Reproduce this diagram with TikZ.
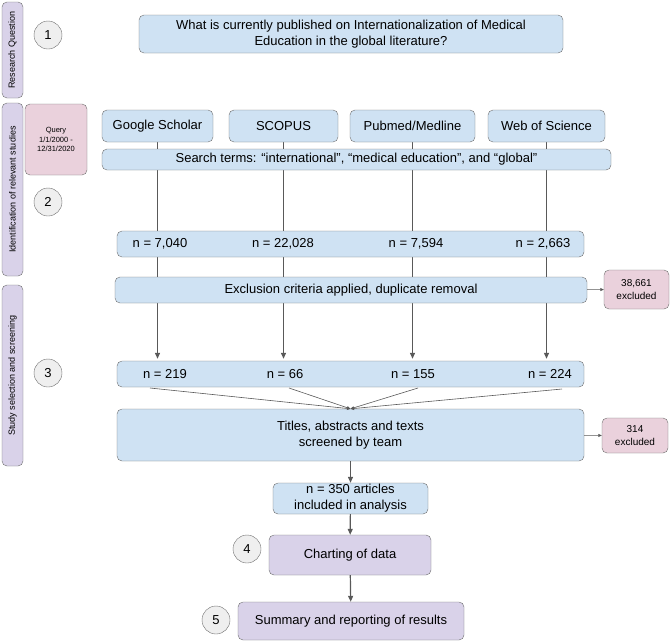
\documentclass[tikz,border=0pt]{standalone}
\usepackage{fontspec}
\setmainfont{Liberation Sans}
\usetikzlibrary{arrows.meta,backgrounds}

\definecolor{boxblue}{HTML}{CFE2F3}
\definecolor{boxpurple}{HTML}{D9D2E9}
\definecolor{boxpink}{HTML}{EAD1DC}
\definecolor{circgray}{HTML}{EFEFEF}
\definecolor{edgegray}{HTML}{6E6E6E}
\definecolor{linegray}{HTML}{595959}

\tikzstyle{box}=[draw=edgegray,fill=boxblue,rounded corners=5pt,inner sep=0pt,align=center,font=\fontsize{13}{16}\selectfont]
\tikzstyle{phase}=[box,fill=boxpurple]
\tikzstyle{note}=[box,fill=boxpink,font=\fontsize{10}{13}\selectfont]
\tikzstyle{lane}=[box,fill=boxpurple,rotate=90,minimum height=21pt,font=\fontsize{9}{11}\selectfont]
\tikzstyle{stepnum}=[circle,draw=edgegray,fill=circgray,minimum size=28pt,inner sep=0pt,font=\fontsize{13}{16}\selectfont]
\tikzstyle{numtxt}=[inner sep=0pt,font=\fontsize{13}{16}\selectfont]
\tikzstyle{flow}=[linegray,line width=1.2pt,-{Triangle[length=6pt,width=5pt]}]
\tikzstyle{merge}=[linegray,line width=0.6pt,-{Triangle[length=3.5pt,width=3pt]}]

\begin{document}
\begin{tikzpicture}[x=1pt,y=-1pt]
    \useasboundingbox (0,0) rectangle (672,641);
    % lanes on the left
    \node (rqlane)[lane,minimum width=96pt] at (12.5,50) {Research Question};
    \node (idlane)[lane,minimum width=173pt] at (12.5,189.5) {Identification of relevant studies};
    \node (sslane)[lane,minimum width=181pt] at (12.5,375.5) {Study selection and screening};
    \node (c1)[stepnum] at (48,35) {1};
    \node (c2)[stepnum] at (48,202) {2};
    \node (c3)[stepnum] at (48,373) {3};
    \node (c4)[stepnum] at (247,549) {4};
    \node (c5)[stepnum] at (216,620) {5};
    % question and search
    \node (rq)[box,minimum width=424pt,minimum height=38pt] at (351,34) {What is currently published on Internationalization of Medical\\Education in the global literature?};
    \node (query)[note,minimum width=62pt,minimum height=71pt,font=\fontsize{7.5}{9.5}\selectfont] at (56,139.5) {Query\\1/1/2000 -\\12/31/2020};
    \node (gs)[box,minimum width=111pt,minimum height=32pt] at (157.5,126) {Google Scholar};
    \node (scopus)[box,minimum width=109pt,minimum height=32pt] at (283.5,126) {SCOPUS};
    \node (pubmed)[box,minimum width=125pt,minimum height=32pt] at (412.5,126) {Pubmed/Medline};
    \node (wos)[box,minimum width=117pt,minimum height=32pt] at (546.5,126) {Web of Science};
    \node (search)[box,minimum width=509pt,minimum height=21pt] at (356.5,159.5) {Search terms: “international”, “medical education”, and “global”};
    % counts found
    \node (found)[box,minimum width=467pt,minimum height=26pt] at (350.5,244) {};
    \node (fgs) [numtxt] at (160,244) {n = 7,040};
    \node (fsc) [numtxt] at (283,244) {n = 22,028};
    \node (fpm) [numtxt] at (416,244) {n = 7,594};
    \node (fws) [numtxt] at (543,244) {n = 2,663};
    \node (excl)[box,minimum width=472pt,minimum height=26pt] at (351,290) {Exclusion criteria applied, duplicate removal};
    \node (out1)[note,minimum width=65pt,minimum height=39pt] at (636.5,289.5) {38,661\\excluded};
    % counts kept
    \node (kept)[box,minimum width=467pt,minimum height=26pt] at (350.5,374) {};
    \node (kgs) [numtxt] at (165,374) {n = 219};
    \node (ksc) [numtxt] at (285,374) {n = 66};
    \node (kpm) [numtxt] at (413,374) {n = 155};
    \node (kws) [numtxt] at (550,374) {n = 224};
    \node (screen)[box,minimum width=467pt,minimum height=52pt] at (350.5,435) {Titles, abstracts and texts\\screened by team};
    \node (out2)[note,minimum width=66pt,minimum height=35pt] at (635,435.5) {314\\excluded};
    \node (incl)[box,minimum width=155pt,minimum height=31pt] at (350.5,498.5) {n = 350 articles\\included in analysis};
    \node (chart)[phase,minimum width=162pt,minimum height=40pt] at (350,555) {Charting of data};
    \node (summ)[phase,minimum width=226pt,minimum height=38pt] at (351,621) {Summary and reporting of results};
    \coordinate (mgs) at (150,388);
    \coordinate (msc) at (289,388);
    \coordinate (mpm) at (418,388);
    \coordinate (mws) at (562,389);

    \begin{pgfonlayer}{background}
    \path[flow,-] (gs.south)     edge (gs.south |- found.north);
    \path[flow,-] (scopus.south) edge (scopus.south |- found.north);
    \path[flow,-] (pubmed.south) edge (pubmed.south |- found.north);
    \path[flow,-] (wos.south)    edge (wos.south |- found.north);
    \path[flow,shorten >=2pt] (gs.south |- found.south)     edge (gs.south |- kept.north);
    \path[flow,shorten >=2pt] (scopus.south |- found.south) edge (scopus.south |- kept.north);
    \path[flow,shorten >=2pt] (pubmed.south |- found.south) edge (pubmed.south |- kept.north);
    \path[flow,shorten >=2pt] (wos.south |- found.south)    edge (wos.south |- kept.north);
    \end{pgfonlayer}
    \path[merge] (excl)  edge (out1);
    \path[merge] (screen) edge (out2);
    \path[merge] (mgs) edge (screen.north);
    \path[merge] (msc) edge (screen.north);
    \path[merge] (mpm) edge (screen.north);
    \path[merge] (mws) edge (screen.north);
    \path[flow] (screen) edge (incl);
    \path[flow] (incl)   edge (chart);
    \path[flow] (chart)  edge (summ);
\end{tikzpicture}
\end{document}
